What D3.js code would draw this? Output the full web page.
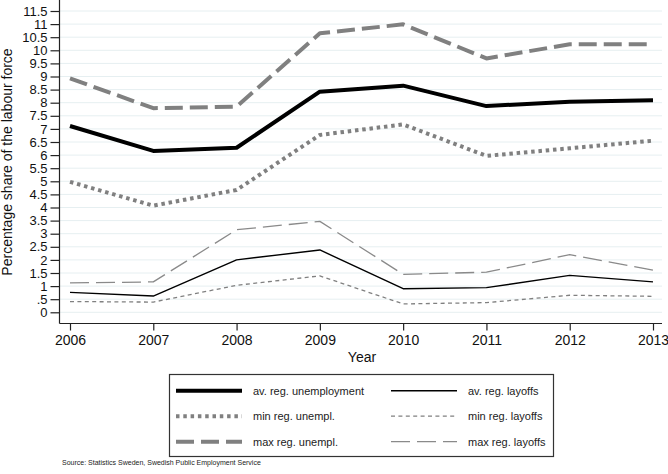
<!DOCTYPE html>
<html>
<head>
<meta charset="utf-8">
<script src="https://cdn.jsdelivr.net/npm/d3@7"></script>
<style>
  body { margin: 0; background: #fff; }
  text { font-family: "Liberation Sans", Arial, sans-serif; fill: #111; }
</style>
</head>
<body>
<div id="chart"></div>
<script>
// values
let years = [2006, 2007, 2008, 2009, 2010, 2011, 2012, 2013];
let avUnemp = [7.11, 6.16, 6.28, 8.42, 8.65, 7.87, 8.04, 8.09];
let minUnemp = [4.98, 4.07, 4.67, 6.77, 7.17, 5.97, 6.26, 6.55];
let maxUnemp = [8.93, 7.79, 7.85, 10.65, 10.99, 9.69, 10.23, 10.23];
let avLayoffs = [0.76, 0.62, 2.0, 2.38, 0.9, 0.94, 1.41, 1.16];
let minLayoffs = [0.41, 0.39, 1.03, 1.39, 0.32, 0.37, 0.65, 0.61];
let maxLayoffs = [1.12, 1.16, 3.15, 3.47, 1.45, 1.53, 2.2, 1.61];
let yTicks = d3.range(0, 11.51, 0.5);

let width = 668;
let height = 474;

let svg = d3.select("#chart").append("svg")
  .attr("width", width)
  .attr("height", height);

let x = d3.scaleLinear().domain([2006, 2013]).range([70, 653]);
let y = d3.scaleLinear().domain([0, 11.5]).range([312.3, 11]);

// grid
svg.selectAll("line.grid")
  .data(yTicks)
  .enter()
  .append("line")
  .classed("grid", true)
  .attr("x1", 60).attr("x2", 662)
  .attr("y1", (d) => y(d)).attr("y2", (d) => y(d))
  .style("stroke", "#e6eff1")
  .style("stroke-width", "1px");

let fmt = (d) => d === 0 ? "0" : (d < 1 ? ".5" : String(d));

let yAxis = svg.append("g")
  .attr("transform", "translate(59.5,0)")
  .call(d3.axisLeft(y).tickValues(yTicks).tickFormat(fmt).tickSize(9).tickPadding(3));
yAxis.select(".domain").attr("d", "M0,0V323.5");
yAxis.selectAll(".tick text").style("font-size", "13px");

let xAxis = svg.append("g")
  .attr("transform", "translate(0,323.5)")
  .call(d3.axisBottom(x).tickValues(years).tickFormat(d3.format("d")).tickSize(7).tickPadding(5));
xAxis.select(".domain").attr("d", "M59.5,0H662");
xAxis.selectAll(".tick text").style("font-size", "14px");

svg.selectAll(".tick text")
  .style("font-family", "'Liberation Sans', Arial, sans-serif")
  .style("fill", "#111");
svg.selectAll(".domain, .tick line")
  .style("stroke", "#222")
  .style("stroke-width", "1.2px");

svg.append("text")
  .attr("transform", "translate(12,162) rotate(-90)")
  .attr("text-anchor", "middle")
  .style("font-size", "14px")
  .text("Percentage share of the labour force");

svg.append("text")
  .attr("x", 362).attr("y", 362)
  .attr("text-anchor", "middle")
  .style("font-size", "14px")
  .text("Year");

let series = [
  { name: "av. reg. unemployment", values: avUnemp, color: "#000", w: 4, dash: null },
  { name: "av. reg. layoffs", values: avLayoffs, color: "#000", w: 1.4, dash: null },
  { name: "min reg. unempl.", values: minUnemp, color: "#808080", w: 4, dash: "3.5,3.8" },
  { name: "min reg. layoffs", values: minLayoffs, color: "#808080", w: 1.3, dash: "4,3.4" },
  { name: "max reg. unempl.", values: maxUnemp, color: "#808080", w: 4, dash: "18,7" },
  { name: "max reg. layoffs", values: maxLayoffs, color: "#8a8a8a", w: 1.3, dash: "19,7" }
];

let line = d3.line()
  .x((d, i) => x(years[i]))
  .y((d) => y(d));

svg.selectAll("path.series")
  .data(series.slice().reverse())
  .enter()
  .append("path")
  .classed("series", true)
  .attr("d", (d) => line(d.values))
  .style("fill", "none")
  .style("stroke", (d) => d.color)
  .style("stroke-width", (d) => d.w + "px")
  .style("stroke-dasharray", (d) => d.dash)
  .style("stroke-linejoin", "round");

// legend
let legend = svg.append("g");
legend.append("rect")
  .attr("x", 169.5).attr("y", 374.5)
  .attr("width", 384).attr("height", 82)
  .style("fill", "#fff")
  .style("stroke", "#333")
  .style("stroke-width", "1.2px");

let item = legend.selectAll("g.item")
  .data(series)
  .enter()
  .append("g")
  .classed("item", true)
  .attr("transform", (d, i) => `translate(${i % 2 === 0 ? 176 : 391}, ${390.7 + Math.floor(i / 2) * 25.5})`);

item.append("line")
  .attr("x1", 0).attr("x2", 66)
  .style("stroke", (d) => d.color)
  .style("stroke-width", (d) => d.w + "px")
  .style("stroke-dasharray", (d) => d.dash);

item.append("text")
  .attr("x", 77).attr("dy", 4)
  .style("font-size", "11px")
  .style("fill", "#222")
  .text((d) => d.name);

svg.append("text")
  .attr("x", 62).attr("y", 465)
  .style("font-size", "7px")
  .style("fill", "#222")
  .text("Source: Statistics Sweden, Swedish Public Employment Service");
</script>
</body>
</html>
